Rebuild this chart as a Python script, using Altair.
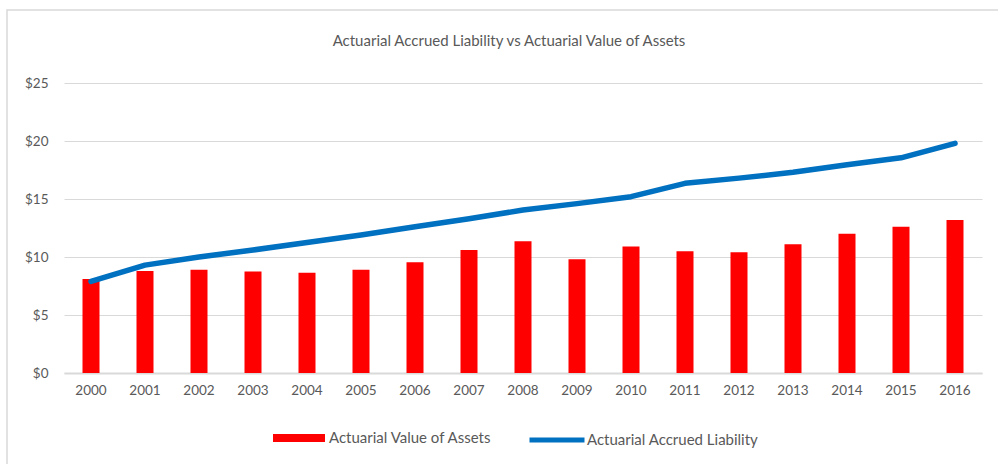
import altair as alt
import pandas as pd

years = [str(y) for y in range(2000, 2017)]
assets = [8.1, 8.8, 8.9, 8.75, 8.65, 8.9, 9.55, 10.6, 11.35, 9.8, 10.9, 10.5, 10.4, 11.1, 12.0, 12.6, 13.2]
liability = [7.9, 9.3, 10.0, 10.6, 11.25, 11.9, 12.6, 13.3, 14.05, 14.6, 15.2, 16.35, 16.8, 17.3, 17.95, 18.55, 19.8]
y_ticks = [0, 5, 10, 15, 20, 25]
TITLE = "Actuarial Accrued Liability vs Actuarial Value of Assets"

S_ASSETS = "Actuarial Value of Assets"
S_LIAB = "Actuarial Accrued Liability"

df_a = pd.DataFrame({"year": years, "value": assets, "series": S_ASSETS})
df_l = pd.DataFrame({"year": years, "value": liability, "series": S_LIAB})

FONT = "Lato"
GREY = "#595959"

x_enc = alt.X("year:O", title=None,
              scale=alt.Scale(type="band", paddingInner=0, paddingOuter=0),
              axis=alt.Axis(labelAngle=0, ticks=False, domain=True, domainColor="#d9d9d9",
                            domainWidth=2, labelPadding=10, labelFontSize=13.5,
                            labelColor=GREY, labelFont=FONT, grid=False))
y_enc = alt.Y("value:Q", title=None,
              scale=alt.Scale(domain=[0, 25], nice=False),
              axis=alt.Axis(values=y_ticks, labelExpr="'$' + datum.value", ticks=False,
                            domain=False, grid=True, gridColor="#d9d9d9", gridWidth=1,
                            labelPadding=16, labelFontSize=13.5, labelColor=GREY,
                            labelFont=FONT))

bars = alt.Chart(df_a).mark_bar(size=17).encode(
    x=x_enc,
    y=y_enc,
    fill=alt.Fill("series:N", scale=alt.Scale(domain=[S_ASSETS], range=["#FF0000"]),
                  legend=alt.Legend(title=None, orient="none", legendX=209, legendY=329,
                                    symbolType="M-1,-0.155L1,-0.155L1,0.155L-1,0.155Z",
                                    symbolSize=2704, symbolStrokeWidth=0,
                                    labelFontSize=15, labelColor=GREY, labelFont=FONT,
                                    labelOffset=4, labelLimit=400)),
)

line = alt.Chart(df_l).mark_line(strokeWidth=5.5, strokeCap="round", strokeJoin="round").encode(
    x=alt.X("year:O"),
    y=alt.Y("value:Q"),
    stroke=alt.Stroke("series:N", scale=alt.Scale(domain=[S_LIAB], range=["#0070C0"]),
                      legend=alt.Legend(title=None, orient="none", legendX=463, legendY=327,
                                        symbolType="stroke", symbolSize=3025,
                                        symbolStrokeWidth=5, labelFontSize=15,
                                        labelColor=GREY, labelFont=FONT, labelOffset=0,
                                        labelLimit=400)),
)

border = alt.Chart(pd.DataFrame({"b": [1]})).mark_rect(
    fill=None, stroke="#d9d9d9", strokeWidth=1.5
).encode(
    x=alt.value(-57), x2=alt.value(960), y=alt.value(-73), y2=alt.value(420)
)

title = alt.Chart(pd.DataFrame({"t": [TITLE]})).mark_text(
    font=FONT, fontSize=15, color=GREY, align="center", baseline="middle"
).encode(
    text="t:N", x=alt.value(445), y=alt.value(-42)
)

chart = alt.layer(border, title, bars, line).properties(
    width=918, height=290,
    padding={"left": 64, "top": 83, "right": 16, "bottom": 91},
    autosize=alt.AutoSizeParams(type="none"),
).configure_view(stroke=None)

chart.save("out.html", embed_options={"renderer": "svg", "actions": False})
